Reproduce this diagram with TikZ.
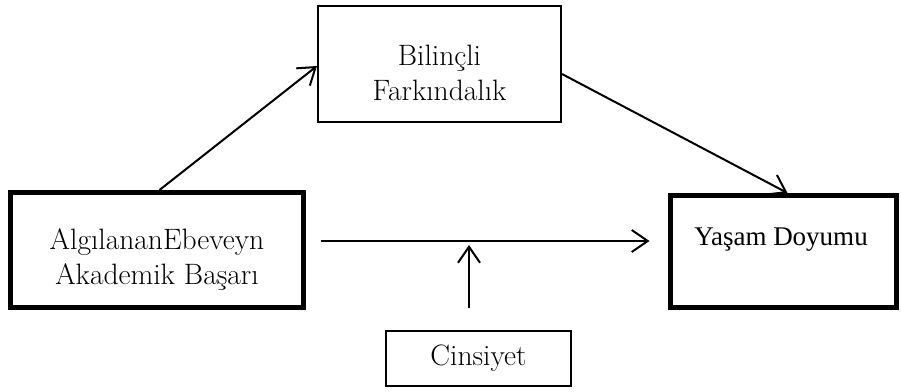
\documentclass[tikz,border=0pt]{standalone}
\usepackage{fontspec}
\newfontfamily\tnr{Liberation Serif}
\usetikzlibrary{arrows.meta,calc}
\tikzset{
  thinbox/.style={draw, line width=2pt, rectangle, inner sep=0pt, align=center},
  thickbox/.style={draw, line width=5pt, rectangle, inner sep=0pt, align=center},
  lbl/.style={inner sep=0pt, align=center, font=\fontsize{29.5}{35}\selectfont},
  arr/.style={line width=2pt, -{Straight Barb[length=16pt,width=22pt,line width=2pt]}}
}
\begin{document}
\begin{tikzpicture}[x=1pt,y=-1pt]
\useasboundingbox (0,0) rectangle (901,391);
% boxes
\node[thickbox, minimum width=293pt, minimum height=115pt] (lb) at (157,250) {};
\node[thickbox, minimum width=226pt, minimum height=112pt] (rb) at (783.5,251.5) {};
\node[thinbox, minimum width=243pt, minimum height=116pt] (tb) at (439.5,64) {};
\node[thinbox, minimum width=185pt, minimum height=55pt] (cb) at (478.5,358.5) {};
% texts
\node[lbl] (lt) at (157,260) {AlgılananEbeveyn\\Akademik Başarı};
\node[lbl] (tt) at (439.5,73) {Bilinçli\\Farkındalık};
\node[lbl] (ct) at (478.5,358) {Cinsiyet};
\node[inner sep=0pt, font=\tnr\fontsize{27}{32}\selectfont] (rt) at (781,240) {Yaşam Doyumu};
% helper coordinates
\coordinate (m) at (469,241);
% connectors
\draw[arr] ($(lb.north west)+(151.5,0)$) -- ($(tb.north west)+(0,61)$);
\draw[arr] ($(tb.north east)+(0,69)$) -- ($(rb.north west)+(119.5,0)$);
\draw[arr, shorten <=14.5pt, shorten >=18.5pt] (lb.east |- m) -- (rb.west |- m);
\draw[arr, shorten <=22pt] (cb.north -| m) -- ($(m)+(0,4)$);
\end{tikzpicture}
\end{document}
